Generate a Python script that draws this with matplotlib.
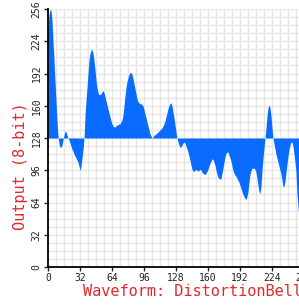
import numpy as np
import matplotlib
matplotlib.use("Agg")
import matplotlib.pyplot as plt
from matplotlib.ticker import MultipleLocator

# 8-bit output value for each input index 0..255
output = [
    235, 250, 255, 255, 245, 225, 205, 185, 165, 145,
    130, 122, 119, 119, 121, 126, 131, 135, 134, 131,
    128, 126, 123, 120, 117, 115, 112, 110, 108, 106,
    104, 100, 96, 100, 108, 116, 128, 150, 165, 178,
    192, 205, 212, 215, 216, 212, 205, 196, 186, 178,
    173, 171, 171, 172, 174, 175, 173, 169, 165, 161,
    157, 153, 149, 145, 142, 140, 139, 139, 140, 141,
    141, 142, 142, 144, 146, 151, 160, 170, 178, 184,
    188, 191, 193, 193, 191, 187, 182, 177, 172, 167,
    164, 163, 162, 162, 161, 160, 156, 152, 148, 144,
    140, 136, 132, 130, 128, 129, 131, 131, 132, 133,
    134, 135, 136, 137, 138, 140, 142, 145, 149, 153,
    157, 160, 162, 163, 160, 154, 148, 141, 134, 128,
    124, 121, 119, 119, 121, 123, 124, 123, 120, 117,
    114, 110, 106, 101, 97, 95, 95, 96, 97, 96,
    95, 96, 97, 96, 94, 93, 92, 92, 93, 95,
    97, 100, 103, 105, 107, 107, 104, 101, 96, 92,
    89, 88, 87, 88, 93, 98, 104, 109, 113, 114,
    114, 111, 108, 105, 100, 96, 93, 91, 90, 88,
    86, 84, 81, 78, 75, 72, 70, 68, 67, 70,
    75, 84, 92, 96, 98, 98, 98, 97, 94, 88,
    81, 75, 73, 80, 96, 108, 118, 128, 138, 150,
    158, 161, 158, 150, 138, 128, 122, 117, 112, 108,
    104, 100, 96, 92, 86, 80, 80, 85, 94, 102,
    110, 116, 121, 124, 124, 120, 112, 104, 94, 72,
    60, 50, 45, 42, 40, 40,
]
midline = 128
x_ticks = [0, 32, 64, 96, 128, 160, 192, 224, 256]
y_ticks = [0, 32, 64, 96, 128, 160, 192, 224, 256]
waveform = "DistortionBell"

mono = "DejaVu Sans Mono"
red = "#e0282d"

fig = plt.figure(figsize=(2.99, 3.07), dpi=100)
# plot area runs past the right edge, like the cropped original
ax = fig.add_axes([48 / 299, 40 / 307, 256 / 299, 258 / 307])

x = np.arange(len(output))
y = np.array(output)
ax.fill_between(x, midline, y, color="#0a6cff", linewidth=0, interpolate=True, zorder=2)

ax.set_xlim(0, 256)
ax.set_ylim(0, 256)
ax.set_xticks(x_ticks)
ax.set_yticks(y_ticks)
ax.xaxis.set_minor_locator(MultipleLocator(8))
ax.yaxis.set_minor_locator(MultipleLocator(8))
ax.grid(which="both", color="#e6e6e6", linewidth=1.0, zorder=0)
ax.set_axisbelow(True)

for s in ["top", "right"]:
    ax.spines[s].set_visible(False)
for s in ["left", "bottom"]:
    ax.spines[s].set_linewidth(1.3)
    ax.spines[s].set_zorder(3)

ax.tick_params(which="minor", length=0)
ax.tick_params(which="major", length=3, width=1, colors="#222222", pad=1.5)
for lab in ax.get_xticklabels():
    lab.set_fontfamily(mono)
    lab.set_fontsize(7)
for lab in ax.get_yticklabels():
    lab.set_fontfamily(mono)
    lab.set_fontsize(7)
    lab.set_rotation(90)
    lab.set_verticalalignment("center")

ax.set_ylabel("Output (8-bit)", family=mono, fontsize=11, color=red)
ax.yaxis.set_label_coords(-0.08, (267 - 166) / 258)
ax.set_xlabel("Waveform: " + waveform, family=mono, fontsize=11, color=red, ha="left")
ax.xaxis.set_label_coords((83 - 48) / 256, -0.065)

fig.savefig("out.png", dpi=100)
